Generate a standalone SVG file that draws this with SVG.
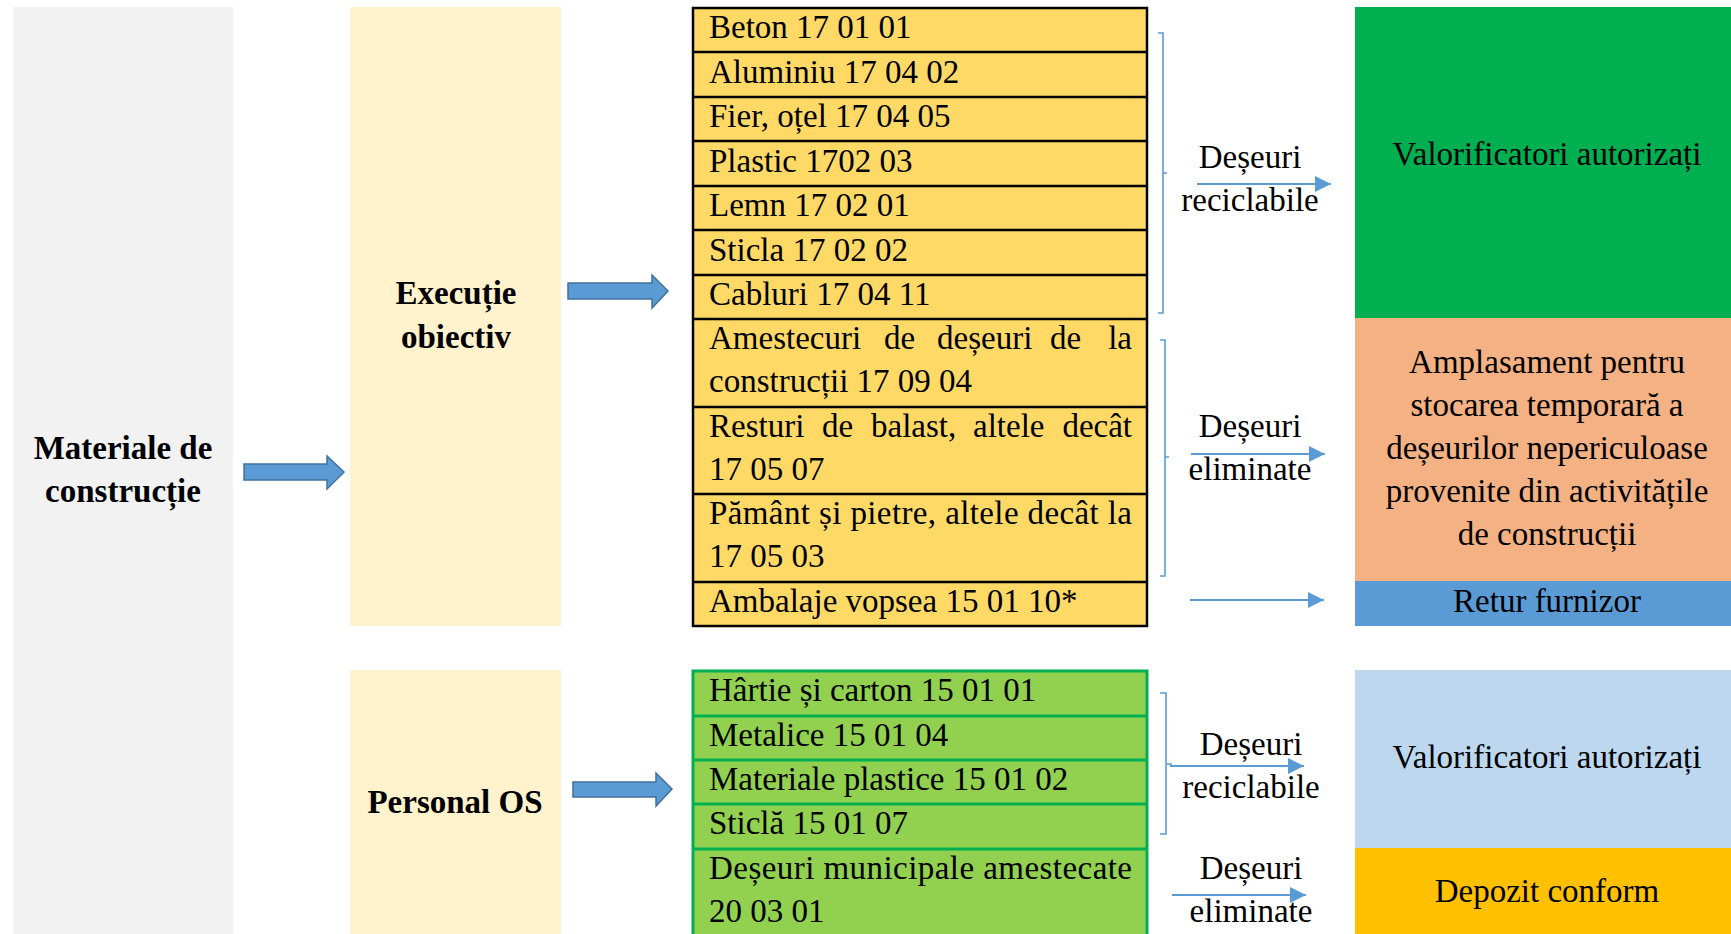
<svg xmlns="http://www.w3.org/2000/svg" width="1731" height="934" viewBox="0 0 1731 934">
<defs>
<style>
text{font-family:"Liberation Serif","Times New Roman",serif;font-size:33px;fill:#000}
.b{font-weight:bold}
.c{text-anchor:middle}
.e{text-anchor:end}
.tab{stroke:#000;stroke-width:2.5}
.gtab{stroke:#00b050;stroke-width:3}
.thin{stroke:#5b9bd5;stroke-width:2;fill:none}
.br{stroke:#5b9bd5;stroke-width:1.6;fill:none}
.block{fill:#5b9bd5;stroke:#41719c;stroke-width:1.5}
</style>
<marker id="ah" markerUnits="userSpaceOnUse" markerWidth="18" markerHeight="18" viewBox="0 0 18 18" refX="16" refY="9" orient="auto">
<path d="M0,1 L16,9 L0,17 Z" fill="#5b9bd5"/>
</marker>
</defs>
<rect width="1731" height="934" fill="#fff"/>

<g id="materiale">
<rect x="13" y="7" width="220" height="927" fill="#f2f2f2"/>
<text class="b c" x="123" y="459">Materiale de</text>
<text class="b c" x="123" y="502">construcție</text>
</g>

<g id="executie">
<rect x="350" y="7" width="211" height="619" fill="#fff2cc"/>
<text class="b c" x="456" y="304">Execuție</text>
<text class="b c" x="456" y="348">obiectiv</text>
</g>

<g id="personal">
<rect x="350" y="670" width="211" height="264" fill="#fff2cc"/>
<text class="b c" x="455" y="813">Personal OS</text>
</g>

<g id="tabel-executie">
<rect x="693" y="8" width="454" height="618" fill="#ffd966" class="tab"/>
<path class="tab" d="M693,52H1147M693,97H1147M693,141H1147M693,186H1147M693,230H1147M693,275H1147M693,319H1147M693,407H1147M693,494H1147M693,582H1147"/>
<text x="709" y="38">Beton 17 01 01</text>
<text x="709" y="83">Aluminiu 17 04 02</text>
<text x="709" y="127">Fier, oțel 17 04 05</text>
<text x="709" y="172">Plastic 1702 03</text>
<text x="709" y="216">Lemn 17 02 01</text>
<text x="709" y="261">Sticla 17 02 02</text>
<text x="709" y="305">Cabluri 17 04 11</text>
<text y="349"><tspan x="709">Amestecuri</tspan><tspan x="884">de</tspan><tspan x="937">deșeuri</tspan><tspan x="1050">de</tspan></text>
<text class="e" x="1132" y="349">la</text>
<text x="709" y="392">construcții 17 09 04</text>
<text y="437"><tspan x="709">Resturi</tspan><tspan x="822">de</tspan><tspan x="871">balast,</tspan><tspan x="973">altele</tspan></text>
<text class="e" x="1132" y="437">decât</text>
<text x="709" y="480">17 05 07</text>
<text x="709" y="524" textLength="423" lengthAdjust="spacing">Pământ și pietre, altele decât la</text>
<text x="709" y="567">17 05 03</text>
<text x="709" y="612">Ambalaje vopsea 15 01 10*</text>
</g>

<g id="tabel-personal">
<rect x="693" y="671" width="454" height="290" fill="#92d050" class="gtab"/>
<path class="gtab" d="M693,716H1147M693,760H1147M693,804H1147M693,849H1147"/>
<text x="709" y="701">Hârtie și carton 15 01 01</text>
<text x="709" y="746">Metalice 15 01 04</text>
<text x="709" y="790">Materiale plastice 15 01 02</text>
<text x="709" y="834">Sticlă 15 01 07</text>
<text x="709" y="879" textLength="423" lengthAdjust="spacing">Deșeuri municipale amestecate</text>
<text x="709" y="922">20 03 01</text>
</g>

<g id="valorificatori-1">
<rect x="1355" y="7" width="376" height="311" fill="#00b050"/>
<text class="c" x="1547" y="165">Valorificatori autorizați</text>
</g>

<g id="amplasament">
<rect x="1355" y="318" width="376" height="263" fill="#f4b183"/>
<text class="c" x="1547" y="373">Amplasament pentru</text>
<text class="c" x="1547" y="416">stocarea temporară a</text>
<text class="c" x="1547" y="459">deșeurilor nepericuloase</text>
<text class="c" x="1547" y="502">provenite din activitățile</text>
<text class="c" x="1547" y="545">de construcții</text>
</g>

<g id="retur">
<rect x="1355" y="581" width="376" height="45" fill="#5b9bd5"/>
<text class="c" x="1547" y="612">Retur furnizor</text>
</g>

<g id="valorificatori-2">
<rect x="1355" y="670" width="376" height="178" fill="#bdd7ee"/>
<text class="c" x="1547" y="768">Valorificatori autorizați</text>
</g>

<g id="depozit">
<rect x="1355" y="848" width="376" height="86" fill="#ffc000"/>
<text class="c" x="1547" y="902">Depozit conform</text>
</g>

<g id="labels">
<text class="c" x="1250" y="168">Deșeuri</text>
<text class="c" x="1250" y="211">reciclabile</text>
<text class="c" x="1250" y="437">Deșeuri</text>
<text class="c" x="1250" y="480">eliminate</text>
<text class="c" x="1251" y="755">Deșeuri</text>
<text class="c" x="1251" y="798">reciclabile</text>
<text class="c" x="1251" y="879">Deșeuri</text>
<text class="c" x="1251" y="922">eliminate</text>
</g>

<g id="connectors">
<polygon class="block" points="244,464 327,464 327,456 344,472 327,489 327,480 244,480"/>
<polygon class="block" points="568,283 652,283 652,275 668,291 652,308 652,299 568,299"/>
<polygon class="block" points="573,782 656,782 656,773 672,789 656,806 656,797 573,797"/>
<path class="br" d="M1158,33H1163V313H1158M1163,173H1167"/>
<path class="br" d="M1160,340H1165V576H1160M1165,457H1169"/>
<path class="br" d="M1160,693H1166V834H1160M1166,764H1172"/>
<line class="thin" x1="1197" y1="184" x2="1331" y2="184" marker-end="url(#ah)"/>
<line class="thin" x1="1191" y1="454" x2="1325" y2="454" marker-end="url(#ah)"/>
<line class="thin" x1="1190" y1="600" x2="1324" y2="600" marker-end="url(#ah)"/>
<line class="thin" x1="1170" y1="766" x2="1304" y2="766" marker-end="url(#ah)"/>
<line class="thin" x1="1172" y1="895" x2="1306" y2="895" marker-end="url(#ah)"/>
</g>
</svg>
